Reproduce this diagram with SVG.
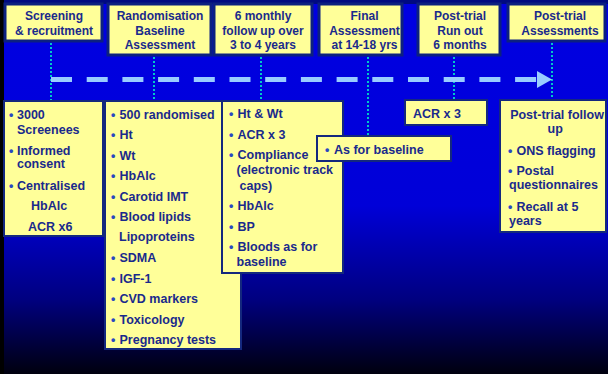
<svg xmlns="http://www.w3.org/2000/svg" width="608" height="374" viewBox="0 0 608 374">
<defs>
<linearGradient id="bg" x1="0" y1="0" x2="0" y2="1">
<stop offset="0" stop-color="#0000e2"/>
<stop offset="0.55" stop-color="#0000d8"/>
<stop offset="0.8" stop-color="#000080"/>
<stop offset="1" stop-color="#00000e"/>
</linearGradient>
<marker id="ah" markerWidth="15" markerHeight="17" refX="0" refY="8.5" orient="auto" markerUnits="userSpaceOnUse">
<path d="M0,0 L15,8.5 L0,17 Z" fill="#99ccff"/>
</marker>
<style>
.hb{fill:#ffff99;stroke:#0c2080;stroke-width:3}
.cb{fill:#ffff99;stroke:#14287e;stroke-width:2}
text{font-family:"Liberation Sans",Arial,sans-serif;font-weight:bold;fill:#1a2a8c}
.h{font-size:12px;text-anchor:middle}
.c{font-size:12.5px}
.b{fill:#2a48c0}
.dot{stroke:#00c8c8;stroke-width:2;stroke-dasharray:2 2;fill:none}
</style>
</defs>
<rect x="0" y="0" width="608" height="374" fill="url(#bg)"/>
<rect x="0" y="0" width="608" height="4" fill="#000a80"/>
<rect x="0" y="0" width="4" height="374" fill="#000000"/>

<g id="connectors">
<line class="dot" x1="51" y1="43" x2="51" y2="100"/>
<line class="dot" x1="154" y1="57" x2="154" y2="100"/>
<line class="dot" x1="261" y1="57" x2="261" y2="100"/>
<line class="dot" x1="368" y1="57" x2="368" y2="136"/>
<line class="dot" x1="454" y1="57" x2="454" y2="100"/>
<line class="dot" x1="552" y1="43" x2="552" y2="100"/>
<path d="M51,79.5 H537" stroke="#99ccff" stroke-width="5" stroke-dasharray="21 14.7" fill="none" marker-end="url(#ah)"/>
</g>

<g id="h1"><rect class="hb" x="5" y="4" width="97" height="37"/>
<text class="h" x="54" y="20">Screening</text><text class="h" x="54" y="34.5">&amp; recruitment</text></g>
<g id="h2"><rect class="hb" x="108" y="4" width="103" height="51"/>
<text class="h" x="160" y="20">Randomisation</text><text class="h" x="160" y="34.5">Baseline</text><text class="h" x="160" y="48.5">Assessment</text></g>
<g id="h3"><rect class="hb" x="214" y="4" width="98" height="51"/>
<text class="h" x="263" y="20">6 monthly</text><text class="h" x="263" y="34.5">follow up over</text><text class="h" x="263" y="48.5">3 to 4 years</text></g>
<g id="h4"><rect class="hb" x="319" y="4" width="83" height="51"/>
<text class="h" x="364.5" y="20">Final</text><text class="h" x="364.5" y="34.5">Assessment</text><text class="h" x="364.5" y="48.5">at 14-18 yrs</text></g>
<g id="h5"><rect class="hb" x="418" y="4" width="82" height="51"/>
<text class="h" x="460" y="20">Post-trial</text><text class="h" x="460" y="34.5">Run out</text><text class="h" x="460" y="48.5">6 months</text></g>
<g id="h6"><rect class="hb" x="508" y="4" width="97" height="37"/>
<text class="h" x="560" y="20">Post-trial</text><text class="h" x="560" y="34.5">Assessments</text></g>

<g id="boxA"><rect class="cb" x="4" y="101" width="99" height="135"/>
<text class="c"><tspan class="b" x="9" y="118.5">•</tspan><tspan x="17" y="118.5">3000</tspan><tspan x="17" y="133.5">Screenees</tspan>
<tspan class="b" x="9" y="154.5">•</tspan><tspan x="17" y="154.5">Informed</tspan><tspan x="17" y="168">consent</tspan>
<tspan class="b" x="9" y="189.5">•</tspan><tspan x="17" y="189.5">Centralised</tspan><tspan x="31" y="210">HbAlc</tspan><tspan x="28" y="231">ACR x6</tspan></text></g>

<g id="boxB"><rect class="cb" x="105" y="101" width="136" height="248"/>
<text class="c"><tspan class="b" x="111" y="118.5">•</tspan><tspan x="119.5" y="118.5">500 randomised</tspan>
<tspan class="b" x="111" y="139">•</tspan><tspan x="119.5" y="139">Ht</tspan>
<tspan class="b" x="111" y="159.5">•</tspan><tspan x="119.5" y="159.5">Wt</tspan>
<tspan class="b" x="111" y="180">•</tspan><tspan x="119.5" y="180">HbAlc</tspan>
<tspan class="b" x="111" y="200.5">•</tspan><tspan x="119.5" y="200.5">Carotid IMT</tspan>
<tspan class="b" x="111" y="221">•</tspan><tspan x="119.5" y="221">Blood lipids</tspan>
<tspan x="119" y="241">Lipoproteins</tspan>
<tspan class="b" x="111" y="262">•</tspan><tspan x="119.5" y="262">SDMA</tspan>
<tspan class="b" x="111" y="282.5">•</tspan><tspan x="119.5" y="282.5">IGF-1</tspan>
<tspan class="b" x="111" y="303">•</tspan><tspan x="119.5" y="303">CVD markers</tspan>
<tspan class="b" x="111" y="323.5">•</tspan><tspan x="119.5" y="323.5">Toxicology</tspan>
<tspan class="b" x="111" y="344">•</tspan><tspan x="119.5" y="344">Pregnancy tests</tspan></text></g>

<g id="boxC"><rect class="cb" x="222" y="101" width="121" height="172"/>
<text class="c"><tspan class="b" x="229" y="118">•</tspan><tspan x="237.5" y="118">Ht &amp; Wt</tspan>
<tspan class="b" x="229" y="138.5">•</tspan><tspan x="237.5" y="138.5">ACR x 3</tspan>
<tspan class="b" x="229" y="159">•</tspan><tspan x="237.5" y="159">Compliance</tspan>
<tspan x="236.5" y="174">(electronic track</tspan><tspan x="239.5" y="189.5">caps)</tspan>
<tspan class="b" x="229" y="210">•</tspan><tspan x="237.5" y="210">HbAlc</tspan>
<tspan class="b" x="229" y="230.5">•</tspan><tspan x="237.5" y="230.5">BP</tspan>
<tspan class="b" x="229" y="251">•</tspan><tspan x="237.5" y="251">Bloods as for</tspan><tspan x="236.5" y="266">baseline</tspan></text></g>

<g id="boxD"><rect class="cb" x="317" y="136" width="134" height="25"/>
<text class="c"><tspan class="b" x="325" y="153.5">•</tspan><tspan x="334" y="153.5">As for baseline</tspan></text></g>

<g id="boxE"><rect class="cb" x="405" y="100" width="82" height="25"/>
<text class="c" x="413" y="118">ACR x 3</text></g>

<g id="boxF"><rect class="cb" x="500" y="100" width="106" height="132"/>
<text class="c"><tspan x="557" y="118.5" text-anchor="middle">Post-trial follow</tspan><tspan x="557" y="133" text-anchor="middle">up</tspan>
<tspan class="b" x="508" y="154.5">•</tspan><tspan x="516.5" y="154.5">ONS flagging</tspan>
<tspan class="b" x="508" y="174.5">•</tspan><tspan x="516.5" y="174.5">Postal</tspan><tspan x="509" y="189">questionnaires</tspan>
<tspan class="b" x="508" y="210.5">•</tspan><tspan x="516.5" y="210.5">Recall at 5</tspan><tspan x="509" y="224.5">years</tspan></text></g>
</svg>
